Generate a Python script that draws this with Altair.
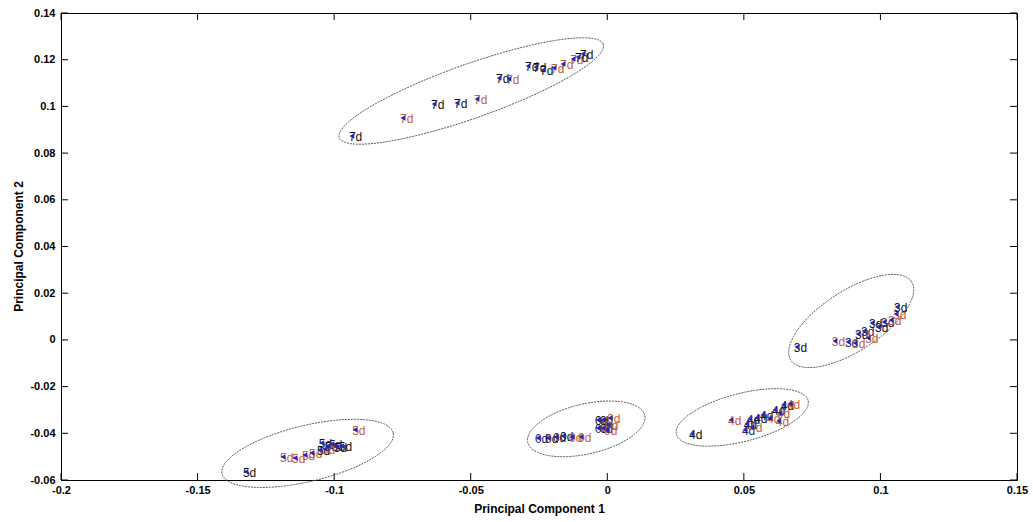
import numpy as np
import pandas as pd
import altair as alt

# ---------------- axes ----------------
X_DOMAIN = [-0.2, 0.15]
Y_DOMAIN = [-0.06, 0.14]
x_ticks = [-0.2, -0.15, -0.1, -0.05, 0, 0.05, 0.1, 0.15]
y_ticks = [-0.06, -0.04, -0.02, 0, 0.02, 0.04, 0.06, 0.08, 0.1, 0.12, 0.14]
W, H = 956, 467

# ---------------- data ----------------
# cluster "7d"
pc1_7 = [-0.0935, -0.0748, -0.0634, -0.0550, -0.0477, -0.0396, -0.0360, -0.0290,
         -0.0261, -0.0235, -0.0195, -0.0162, -0.0125, -0.0107, -0.0089]
pc2_7 = [0.0873, 0.0950, 0.1010, 0.1015, 0.1032, 0.1122, 0.1117, 0.1173,
         0.1169, 0.1156, 0.1165, 0.1182, 0.1203, 0.1212, 0.1225]
tone_7 = ["k", "r", "k", "k", "r", "k", "r", "k", "k", "k", "r", "r", "r", "k", "k"]

# cluster "5d"
pc1_5 = [-0.1323, -0.1187, -0.1143, -0.1107, -0.1081, -0.1052, -0.1045, -0.1023,
         -0.1008, -0.0990, -0.0972, -0.1034, -0.0923]
pc2_5 = [-0.0565, -0.0501, -0.0506, -0.0493, -0.0484, -0.0471, -0.0442, -0.0454,
         -0.0446, -0.0459, -0.0454, -0.0467, -0.0385]
tone_5 = ["k", "r", "r", "r", "r", "k", "k", "k", "b", "k", "k", "r", "r"]

# cluster "0d"
pc1_0 = [-0.0254, -0.0217, -0.0188, -0.0162, -0.0129, -0.0096, -0.0034, -0.0034,
         -0.0016, -0.0016, 0.0003, 0.0010, -0.0001]
pc2_0 = [-0.0420, -0.0420, -0.0416, -0.0412, -0.0416, -0.0416, -0.0377, -0.0343,
         -0.0343, -0.0377, -0.0364, -0.0334, -0.0385]
tone_0 = ["b", "k", "b", "k", "r", "r", "b", "k", "k", "k", "r", "r", "r"]

# cluster "4d"
pc1_4 = [0.0310, 0.0453, 0.0511, 0.0522, 0.0504, 0.0530, 0.0548, 0.0570,
         0.0596, 0.0614, 0.0628, 0.0632, 0.0646, 0.0668]
pc2_4 = [-0.0403, -0.0343, -0.0360, -0.0339, -0.0386, -0.0373, -0.0334, -0.0321,
         -0.0334, -0.0300, -0.0347, -0.0313, -0.0278, -0.0274]
tone_4 = ["k", "r", "k", "b", "b", "r", "k", "k", "r", "k", "r", "r", "k", "r"]

# cluster "3d"
pc1_3 = [0.0694, 0.0833, 0.0881, 0.0907, 0.0918, 0.0940, 0.0955, 0.0969,
         0.0991, 0.1013, 0.1039, 0.1057, 0.1061]
pc2_3 = [-0.0030, -0.0005, -0.0009, -0.0013, 0.0025, 0.0038, 0.0008, 0.0072,
         0.0055, 0.0077, 0.0085, 0.0111, 0.0141]
tone_3 = ["k", "r", "b", "r", "k", "b", "r", "k", "k", "b", "r", "r", "k"]

clusters = [("7d", pc1_7, pc2_7, tone_7), ("5d", pc1_5, pc2_5, tone_5),
            ("0d", pc1_0, pc2_0, tone_0), ("4d", pc1_4, pc2_4, tone_4),
            ("3d", pc1_3, pc2_3, tone_3)]

rows = []
for lab, xs, ys, ts in clusters:
    for x, y, t in zip(xs, ys, ts):
        rows.append({"pc1": x, "pc2": y, "label": lab, "tone": t})
pts = pd.DataFrame(rows)

# ellipses: centre (data units), semi-axes (px), tilt (deg)
ell_name = ["7", "5", "0", "4", "3"]
ell_cx = [-0.0498, -0.1097, -0.0077, 0.0494, 0.0893]
ell_cy = [0.1066, -0.0486, -0.0381, -0.0332, 0.0081]
ell_a = [140, 88, 60, 68, 72]
ell_b = [27, 28, 25, 24, 30]
ell_ang = [19.5, 13.5, 13.0, 14.4, 33.0]

sx = W / (X_DOMAIN[1] - X_DOMAIN[0])
sy = H / (Y_DOMAIN[1] - Y_DOMAIN[0])
t = np.linspace(0, 2 * np.pi, 181)
erows = []
for n, cx, cy, a, b, ang in zip(ell_name, ell_cx, ell_cy, ell_a, ell_b, ell_ang):
    th = np.deg2rad(ang)
    dx = a * np.cos(t) * np.cos(th) - b * np.sin(t) * np.sin(th)
    dy = a * np.cos(t) * np.sin(th) + b * np.sin(t) * np.cos(th)
    for i, (u, v) in enumerate(zip(dx, dy)):
        erows.append({"e": n, "i": i, "ex": cx + u / sx, "ey": cy + v / sy})
ell = pd.DataFrame(erows)

# ---------------- chart ----------------
FONT_AX = "Liberation Sans Narrow, Arial Narrow, Liberation Sans, Arial"
xs_ = alt.Scale(domain=X_DOMAIN, nice=False, zero=False)
ys_ = alt.Scale(domain=Y_DOMAIN, nice=False, zero=False)

xaxis = alt.Axis(values=x_ticks, labelExpr="datum.value + ''", grid=False, ticks=False,
                 domainColor="black", labelColor="black", labelFont=FONT_AX,
                 labelFontWeight="bold", labelFontSize=11, labelPadding=4,
                 labelFlush=False, title="Principal Component 1", titleFont="Arial, Liberation Sans",
                 titleFontSize=12, titleFontWeight="bold", titleColor="black",
                 titleX=478, titleY=28, titleBaseline="middle", titleAlign="center")
yaxis = alt.Axis(values=y_ticks, labelExpr="datum.value + ''", grid=False, ticks=False,
                 domainColor="black", labelColor="black", labelFont=FONT_AX,
                 labelFontWeight="bold", labelFontSize=11, labelPadding=6,
                 labelFlush=False, title="Principal Component 2", titleFont="Arial, Liberation Sans",
                 titleFontSize=12, titleFontWeight="bold", titleColor="black",
                 titleX=-43, titleY=233, titleAngle=-90, titleBaseline="middle",
                 titleAlign="center")

base_pts = alt.Chart(pts)

ellipses = alt.Chart(ell).mark_line(color="#555555", strokeWidth=1, strokeDash=[2, 1],
                                    clip=False).encode(
    x=alt.X("ex:Q", scale=xs_, axis=xaxis),
    y=alt.Y("ey:Q", scale=ys_, axis=yaxis),
    detail="e:N",
    order="i:Q",
)

texts = base_pts.mark_text(align="left", baseline="middle", dx=-3, dy=1, fontSize=12,
                           font="Liberation Sans, Arial").encode(
    x=alt.X("pc1:Q", scale=xs_),
    y=alt.Y("pc2:Q", scale=ys_),
    text="label:N",
    color=alt.Color("tone:N", scale=alt.Scale(domain=["k", "r", "b"],
                                              range=["#111111", "#c8603c", "#25256e"]),
                    legend=None),
)

markers = base_pts.mark_point(shape="triangle-left", filled=True, size=30,
                              color="#2626b8", opacity=1, strokeWidth=0).encode(
    x=alt.X("pc1:Q", scale=xs_),
    y=alt.Y("pc2:Q", scale=ys_),
)

# inward ticks (MATLAB style) on all four sides
xt = pd.DataFrame({"v": x_ticks})
yt = pd.DataFrame({"v": y_ticks})
TL = 7
xt_bot = alt.Chart(xt).mark_rule(color="black", strokeWidth=1).encode(
    x=alt.X("v:Q", scale=xs_), y=alt.value(H), y2=alt.value(H - TL))
xt_top = alt.Chart(xt).mark_rule(color="black", strokeWidth=1).encode(
    x=alt.X("v:Q", scale=xs_), y=alt.value(0), y2=alt.value(TL))
yt_left = alt.Chart(yt).mark_rule(color="black", strokeWidth=1).encode(
    y=alt.Y("v:Q", scale=ys_), x=alt.value(0), x2=alt.value(TL))
yt_right = alt.Chart(yt).mark_rule(color="black", strokeWidth=1).encode(
    y=alt.Y("v:Q", scale=ys_), x=alt.value(W), x2=alt.value(W - TL))

chart = alt.layer(ellipses, texts, markers, xt_bot, xt_top, yt_left, yt_right).properties(
    width=W, height=H,
    autosize=alt.AutoSizeParams(type="none"),
    padding={"left": 61, "top": 13, "right": 16, "bottom": 42},
    background="white",
).configure_view(stroke="black", strokeWidth=1)

chart.save("out.html", embed_options={"renderer": "svg", "actions": False})
